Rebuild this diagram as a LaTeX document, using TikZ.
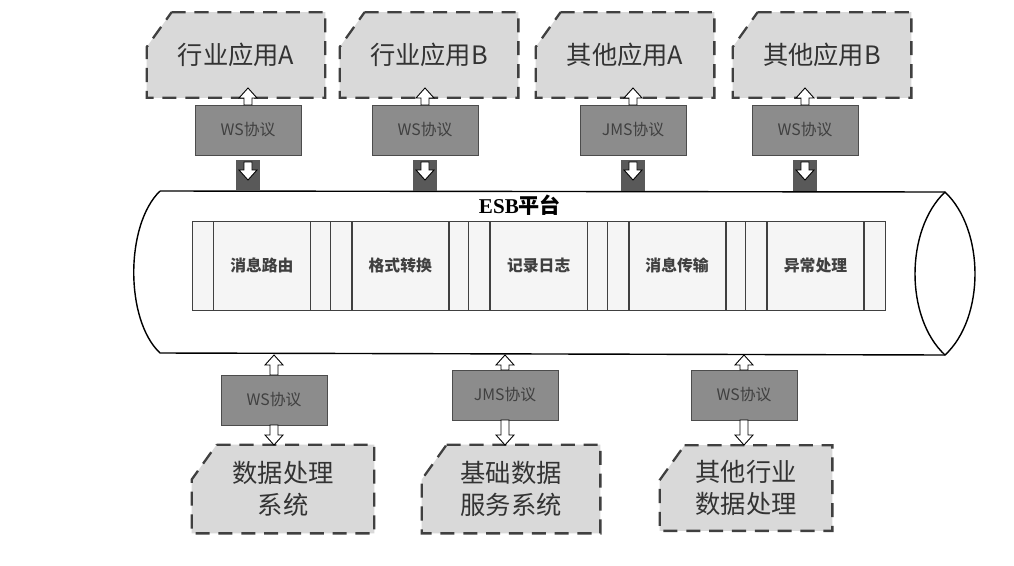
\documentclass[tikz,border=0pt]{standalone}
\usepackage{fontspec}
\setmainfont{Liberation Serif}
\newfontfamily\cjk{Noto Sans CJK SC}
\usetikzlibrary{positioning}

% hollow arrow between two y values at x
\newcommand{\hollowarr}[3]{%
  \draw[fill=white,line width=0.5pt] (#1-4,#2) -- (#1-4,{#3+(#2>#3?10:-10)}) -- (#1-9,{#3+(#2>#3?10:-10)})
    -- (#1,#3) -- (#1+9,{#3+(#2>#3?10:-10)}) -- (#1+4,{#3+(#2>#3?10:-10)}) -- (#1+4,#2) -- cycle;}
% dashed application box with a cut corner
\newcommand{\appframe}[1]{%
  \path[fill=boxgray] ([xshift=0.5cm]#1.north west) -- (#1.north east) -- (#1.south east)
    -- (#1.south west) -- ([yshift=-0.7cm]#1.north west) -- cycle;
  \draw[dash pattern=on 8pt off 5pt,line width=1.3pt,draw=black!75] ([xshift=0.5cm]#1.north west) -- (#1.north east) -- (#1.south east)
    -- (#1.south west) -- ([yshift=-0.7cm]#1.north west) -- cycle;}

\definecolor{boxgray}{gray}{0.85}
\definecolor{protogray}{gray}{0.55}

\tikzset{
  app/.style={minimum width=178*0.02cm,minimum height=85*0.02cm,inner sep=0,font=\cjk\Large,text=black!80,align=center},
  proto/.style={draw=black!70,fill=protogray,minimum width=106*0.02cm,minimum height=50*0.02cm,inner sep=0,font=\cjk\small,text=black!75},
  cell/.style={draw=black!75,fill=black!4,minimum height=89*0.02cm,inner sep=0,font=\cjk\small\bfseries,text=black!75},
  strip/.style={cell,minimum width=21*0.02cm}
}

\begin{document}
\begin{tikzpicture}[x=0.02cm,y=-0.02cm]
\useasboundingbox (0,0) rectangle (1014,565);
\fill[white] (0,0) rectangle (1014,565);

% applications on top
\node[app] (appA) at (236,55) {行业应用A};
\node[app] (appB) at (429,55) {行业应用B};
\node[app] (appC) at (625,55) {其他应用A};
\node[app] (appD) at (822,55) {其他应用B};
\foreach \n in {appA,appB,appC,appD} {\appframe{\n}}
\node[app] at (appA) {行业应用A};
\node[app] at (appB) {行业应用B};
\node[app] at (appC) {其他应用A};
\node[app] at (appD) {其他应用B};

% cylinder
\draw[line width=0.8pt,fill=white] (160,191) -- (945,192) .. controls (985,230) and (985,318) .. (945,355)
  -- (160,353) .. controls (125,320) and (125,225) .. (160,191);
\draw[line width=0.8pt] (945,192) .. controls (905,230) and (905,318) .. (945,355);
\node[font=\cjk\large\bfseries] (esb) at (520,205) {\textrm{ESB}平台};

% top protocols and links
\foreach \x/\t/\n in {248/WS协议/pA,425/WS协议/pB,633/JMS协议/pC,805/WS协议/pD} {
  \node[proto] (\n) at (\x,130) {\t};
  \fill[black!45] (\n.south west) ++(1,-7) rectangle ([xshift=-1pt,yshift=1pt]\n.south east);
  \fill[black!65] (\x-12,160) rectangle (\x+12,191);
  \hollowarr{\x}{162}{180}
  \hollowarr{\x}{105}{88}
}

% services in the bus
\foreach \i/\t in {0/消息路由,1/格式转换,2/记录日志,3/消息传输,4/异常处理} {
  \node[strip] (sl\i) at ({202.5+138.4*\i},265.5) {};
  \node[cell,minimum width=96.4*0.02cm,right=0pt of sl\i] (svc\i) {\t};
  \node[strip,right=0pt of svc\i] (sr\i) {};
}

% bottom protocols and systems
\node[app,minimum width=182*0.02cm,minimum height=88*0.02cm] (sys1) at (283,489) {数据处理\\系统};
\node[app,minimum width=178*0.02cm,minimum height=88*0.02cm] (sys2) at (511,489) {基础数据\\服务系统};
\node[app,minimum width=172*0.02cm,minimum height=85*0.02cm] (sys3) at (746,488) {其他行业\\数据处理};
\foreach \n in {sys1,sys2,sys3} {\appframe{\n}}
\node[app] at (sys1) {数据处理\\系统};
\node[app] at (sys2) {基础数据\\服务系统};
\node[app] at (sys3) {其他行业\\数据处理};

\foreach \x/\y/\t/\n in {274/400/WS协议/qA,505/395/JMS协议/qB,744/395/WS协议/qC} {
  \node[proto] (\n) at (\x,\y) {\t};
  \fill[black!45] (\n.south west) ++(1,-7) rectangle ([xshift=-1pt,yshift=1pt]\n.south east);
  \hollowarr{\x}{\y-25}{355}
  \hollowarr{\x}{\y+25}{445}
}
\end{tikzpicture}
\end{document}
